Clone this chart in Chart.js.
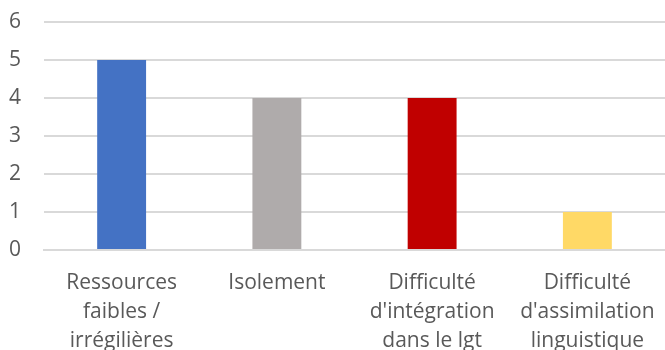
<!DOCTYPE html>
<html>
<head>
<meta charset="utf-8">
<script src="https://cdn.jsdelivr.net/npm/chart.js@4"></script>
<style>
  html, body { margin: 0; padding: 0; background: #fff; }
  #wrap { width: 665px; height: 350px; }
</style>
</head>
<body>
<div id="wrap"><canvas id="difficultes" width="665" height="350"></canvas></div>
<script>
const categories = [
  ['Ressources', 'faibles /', 'irrégilières'],
  ['Isolement'],
  ['Difficulté', "d'intégration", 'dans le lgt'],
  ['Difficulté', "d'assimilation", 'linguistique']
];
const values = [5, 4, 4, 1];
const barColors = ['#4472C4', '#AFABAB', '#C00000', '#FFD966'];
const yTicks = [0, 1, 2, 3, 4, 5, 6];

const ctx = document.getElementById('difficultes').getContext('2d');

new Chart(ctx, {
  type: 'bar',
  data: {
    labels: categories,
    datasets: [{
      data: values,
      backgroundColor: barColors,
      categoryPercentage: 1,
      barPercentage: 0.315
    }]
  },
  options: {
    responsive: false,
    animation: false,
    layout: { padding: 0 },
    plugins: {
      legend: { display: false },
      tooltip: { enabled: false }
    },
    scales: {
      x: {
        grid: { display: false },
        border: { color: '#D9D9D9', width: 2 },
        ticks: {
          color: '#595959',
          font: { family: 'Open Sans', size: 21, lineHeight: 1.4 },
          padding: 10,
          maxRotation: 0,
          autoSkip: false
        },
        afterFit: function(axis) { axis.height = 100; }
      },
      y: {
        min: yTicks[0],
        max: yTicks[yTicks.length - 1],
        border: { display: false },
        grid: { color: '#D9D9D9', lineWidth: 2, drawTicks: false },
        ticks: {
          stepSize: 1,
          color: '#595959',
          font: { family: 'Open Sans', size: 21 },
          padding: 23
        },
        afterFit: function(axis) {
          axis.width = 44;
          axis.paddingTop = 22;
        }
      }
    }
  }
});
</script>
</body>
</html>
